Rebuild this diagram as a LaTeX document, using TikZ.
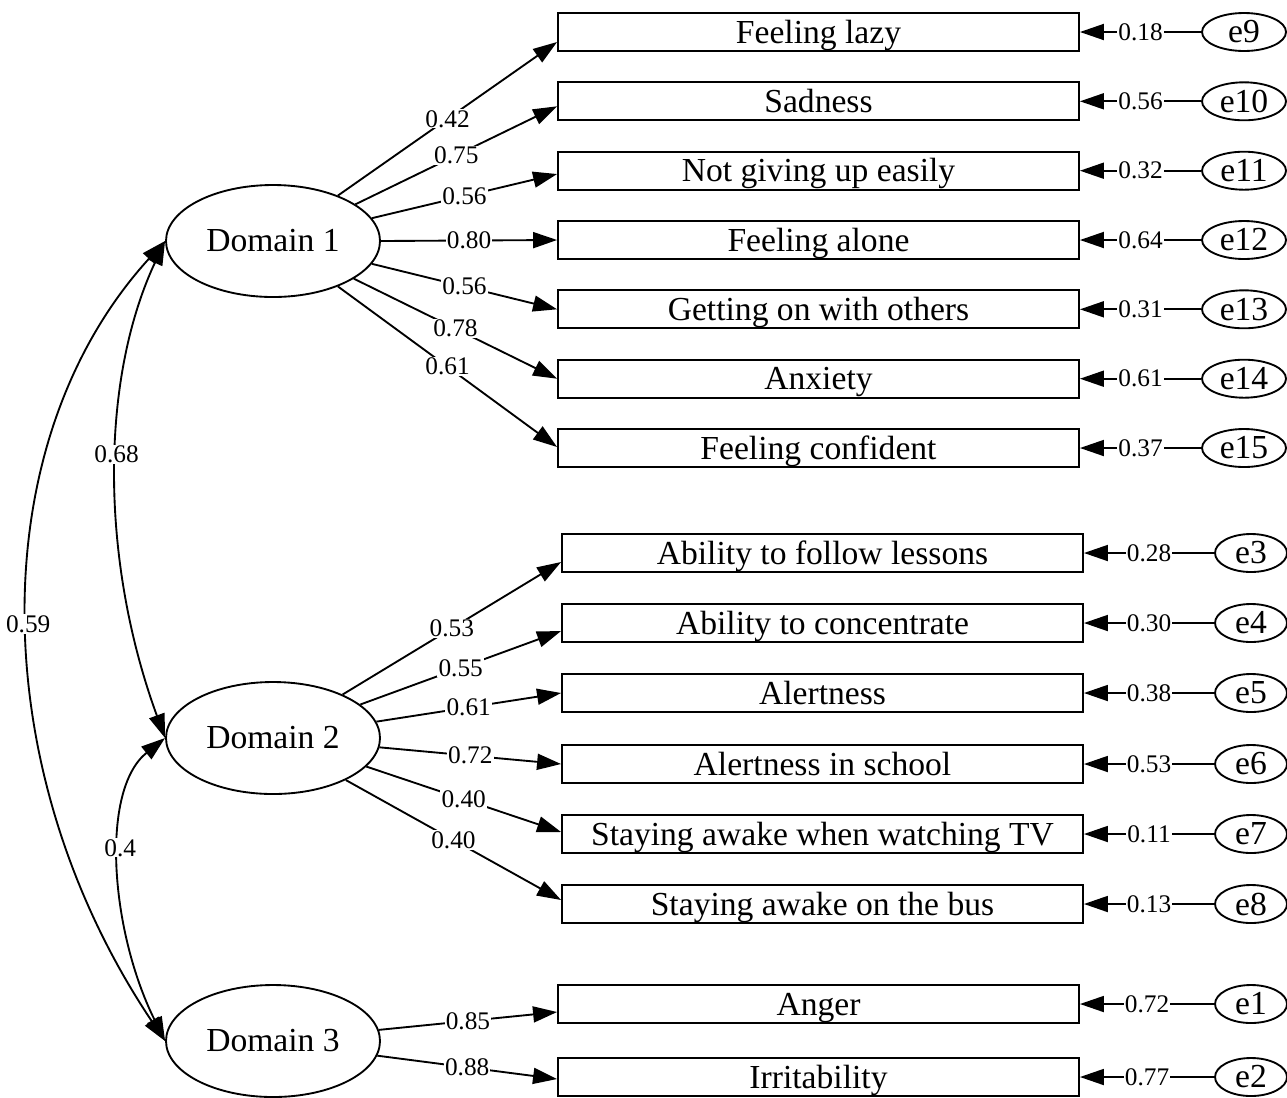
\documentclass[tikz,border=0pt]{standalone}
\usepackage{fontspec}
\setmainfont{Liberation Serif}
\usetikzlibrary{arrows.meta,shapes.geometric}
\begin{document}
\begin{tikzpicture}[x=0.75pt,y=-0.75pt,
  latent/.style={draw, ellipse, line width=1.4pt, minimum width=160.5pt, minimum height=84pt, inner sep=0pt, font=\fontsize{25.2}{30}\selectfont},
  item/.style={draw, rectangle, line width=1.4pt, minimum width=390.75pt, minimum height=28.5pt, inner sep=0pt, font=\fontsize{25.2}{30}\selectfont, text height=19.5pt, text depth=3pt},
  errA/.style={draw, ellipse, line width=1.4pt, minimum width=63pt, minimum height=28.5pt, inner sep=0pt, font=\fontsize{25.2}{30}\selectfont},
  errB/.style={errA, minimum width=54pt},
  lab/.style={fill=white, inner sep=0.8pt, font=\fontsize{19}{22}\selectfont},
  arr/.style={line width=1.4pt, -{Triangle[length=18pt,width=12pt]}},
  cov/.style={line width=1.4pt, {Triangle[length=18pt,width=12pt]}-{Triangle[length=18pt,width=12pt]}}
]
\useasboundingbox (0,0) rectangle (1287,1097);

% latent variables
\node[latent] (d1) at (273,241) {Domain 1};
\node[latent] (d2) at (273,738) {Domain 2};
\node[latent] (d3) at (273,1041) {Domain 3};

% indicators, group 1
\node[item] (i9)  at (818.5,32)    {Feeling lazy};
\node[item] (i10) at (818.5,101.3) {Sadness};
\node[item] (i11) at (818.5,170.7) {Not giving up easily};
\node[item] (i12) at (818.5,240)   {Feeling alone};
\node[item] (i13) at (818.5,309.3) {Getting on with others};
\node[item] (i14) at (818.5,378.7) {Anxiety};
\node[item] (i15) at (818.5,448)   {Feeling confident};

% indicators, group 2
\node[item] (i3) at (822.5,553) {Ability to follow lessons};
\node[item] (i4) at (822.5,623) {Ability to concentrate};
\node[item] (i5) at (822.5,693) {Alertness};
\node[item] (i6) at (822.5,764) {Alertness in school};
\node[item] (i7) at (822.5,834) {Staying awake when watching TV};
\node[item] (i8) at (822.5,904) {Staying awake on the bus};

% indicators, group 3
\node[item] (i1) at (818.5,1004) {Anger};
\node[item] (i2) at (818.5,1077) {Irritability};

% error terms
\node[errA] (e9)  at (1244,32)    {e9};
\node[errA] (e10) at (1244,101.3) {e10};
\node[errA] (e11) at (1244,170.7) {e11};
\node[errA] (e12) at (1244,240)   {e12};
\node[errA] (e13) at (1244,309.3) {e13};
\node[errA] (e14) at (1244,378.7) {e14};
\node[errA] (e15) at (1244,448)   {e15};
\node[errB] (e3) at (1251,553) {e3};
\node[errB] (e4) at (1251,623) {e4};
\node[errB] (e5) at (1251,693) {e5};
\node[errB] (e6) at (1251,764) {e6};
\node[errB] (e7) at (1251,834) {e7};
\node[errB] (e8) at (1251,904) {e8};
\node[errB] (e1) at (1251,1004) {e1};
\node[errB] (e2) at (1251,1077) {e2};

% error paths
\draw[arr] (e9)  -- node[lab]{0.18} (i9);
\draw[arr] (e10) -- node[lab]{0.56} (i10);
\draw[arr] (e11) -- node[lab]{0.32} (i11);
\draw[arr] (e12) -- node[lab]{0.64} (i12);
\draw[arr] (e13) -- node[lab]{0.31} (i13);
\draw[arr] (e14) -- node[lab]{0.61} (i14);
\draw[arr] (e15) -- node[lab]{0.37} (i15);
\draw[arr] (e3) -- node[lab]{0.28} (i3);
\draw[arr] (e4) -- node[lab]{0.30} (i4);
\draw[arr] (e5) -- node[lab]{0.38} (i5);
\draw[arr] (e6) -- node[lab]{0.53} (i6);
\draw[arr] (e7) -- node[lab]{0.11} (i7);
\draw[arr] (e8) -- node[lab]{0.13} (i8);
\draw[arr] (e1) -- node[lab]{0.72} (i1);
\draw[arr] (e2) -- node[lab]{0.77} (i2);

% loadings, domain 1
\draw[arr] (d1.35)   -- node[lab]{0.42} ([yshift=-7.5pt]i9.west);
\draw[arr] (d1.24.5) -- node[lab]{0.75} ([yshift=-3.75pt]i10.west);
\draw[arr] (d1.13.5) -- node[lab]{0.56} ([yshift=-2.5pt]i11.west);
\draw[arr] (d1.0)    -- node[lab]{0.80} (i12.west);
\draw[arr] (d1.-13.5) -- node[lab]{0.56} (i13.west);
\draw[arr] (d1.-25)  -- node[lab]{0.78} (i14.west);
\draw[arr] (d1.-35)  -- node[lab]{0.61} ([yshift=0.75pt]i15.west);

% loadings, domain 2
\draw[arr] (d2.32.7) -- node[lab]{0.53} ([yshift=-6.75pt]i3.west);
\draw[arr] (d2.21.5) -- node[lab]{0.55} ([yshift=-6pt]i4.west);
\draw[arr] (d2.9)    -- node[lab]{0.61} (i5.west);
\draw[arr] (d2.-5.5) -- node[lab]{0.72} (i6.west);
\draw[arr] (d2.-17.7) -- node[lab]{0.40} ([yshift=1.5pt]i7.west);
\draw[arr] (d2.-30.4) -- node[lab]{0.40} ([yshift=3pt]i8.west);

% loadings, domain 3
\draw[arr] (d3.6)  -- node[lab]{0.85} ([yshift=-6pt]i1.west);
\draw[arr] (d3.-8) -- node[lab]{0.88} ([yshift=-1.5pt]i2.west);

% covariances
\draw[cov] (d1.west) .. controls (100,380) and (100,560) .. node[lab,pos=0.46]{0.68} (d2.west);
\draw[cov] (d1.west) .. controls (-19,443) and (-16,771) .. node[lab,pos=0.51]{0.59} (d3.west);
\draw[cov] (d2.west) .. controls (100,790) and (110,930) .. node[lab,pos=0.44]{0.4} (d3.west);
\end{tikzpicture}
\end{document}
